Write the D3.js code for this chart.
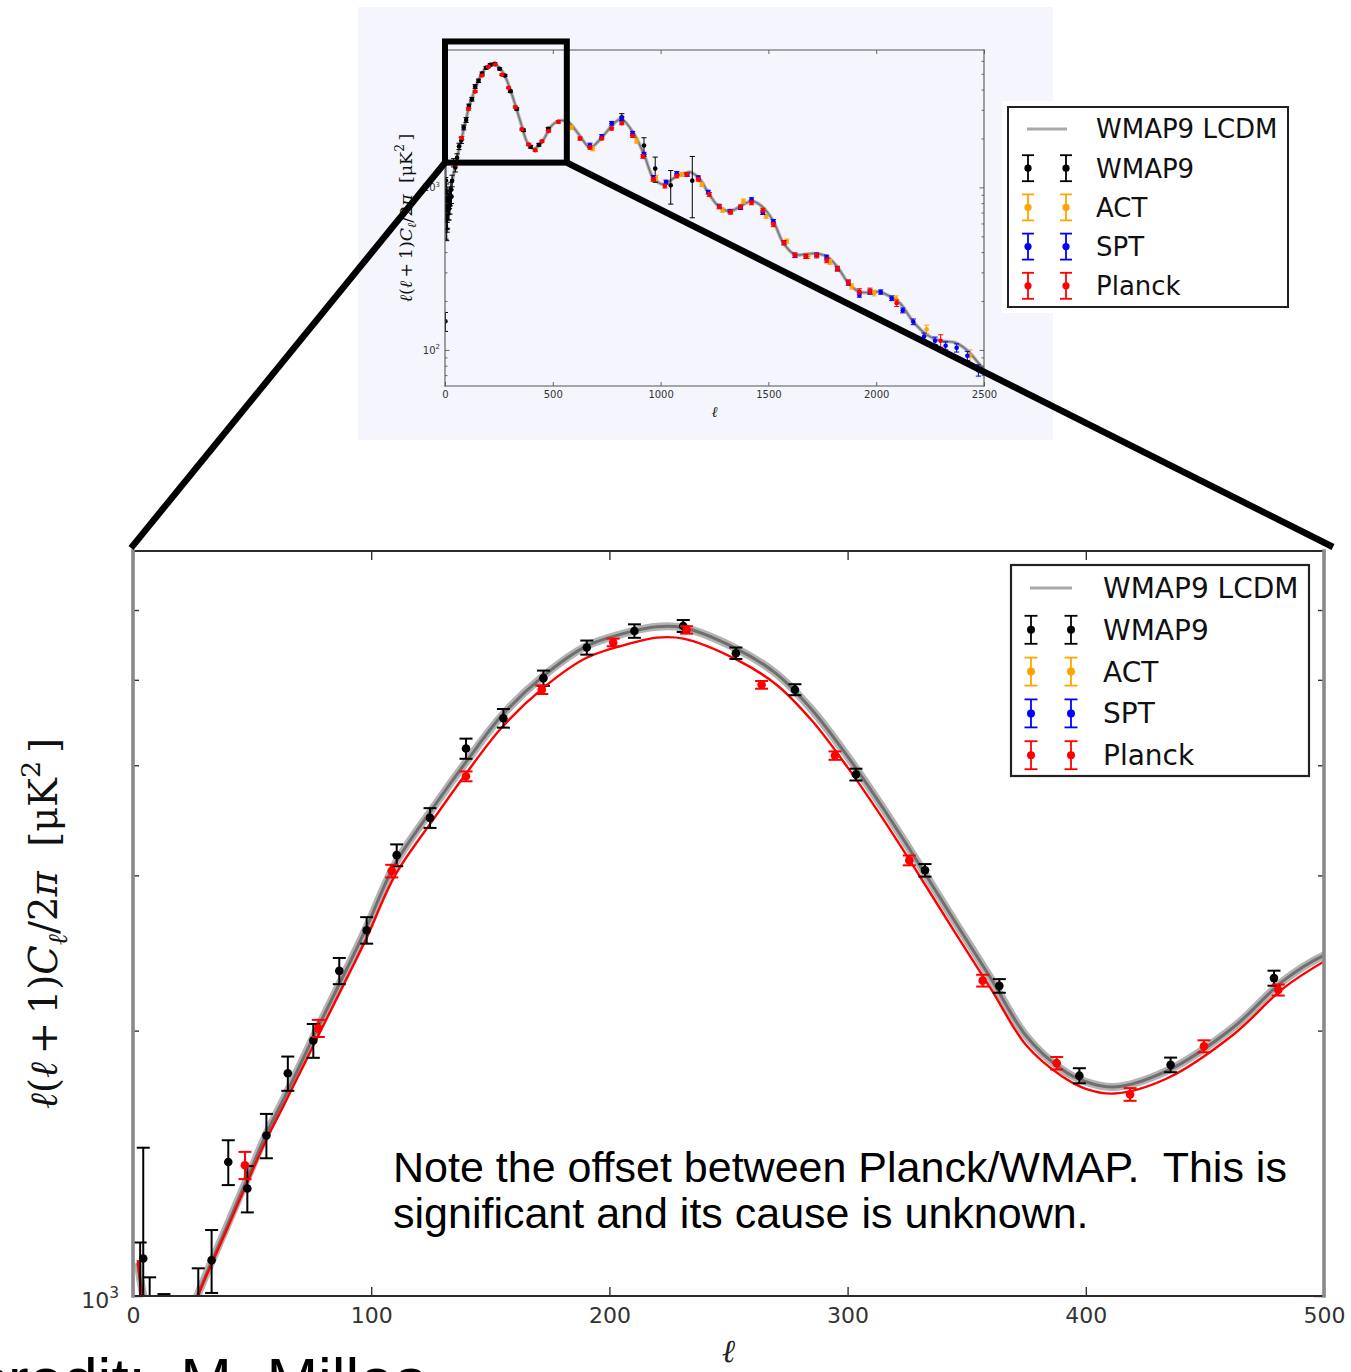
<!DOCTYPE html>
<html>
<head>
<meta charset="utf-8">
<script src="https://cdn.jsdelivr.net/npm/d3@7"></script>
<style>
  html, body { margin: 0; padding: 0; background: #ffffff; }
  svg { display: block; }
  text { white-space: pre; }
</style>
</head>
<body>
<svg id="fig" width="1351" height="1372"></svg>
<script>
// ---------------- data ----------------
const overviewEllTicks = [0, 500, 1000, 1500, 2000, 2500];
const detailEllTicks = [0, 100, 200, 300, 400, 500];
const majorDlTicks = [100, 1000];
const overviewMinorDlTicks = [70, 80, 90, 200, 300, 400, 500, 600, 700, 800, 900, 2000, 3000, 4000, 5000, 6000];
const detailMinorDlTicks = [2000, 3000, 4000, 5000, 6000];

const legendLabels = ["WMAP9 LCDM", "WMAP9", "ACT", "SPT", "Planck"];
const seriesColors = ["#8c8c8c", "#000000", "#ffa500", "#0000ff", "#ff0000"];

// WMAP9 LCDM best fit, [ell, D_ell in uK^2]
const wmap9Lcdm = [
  [2,1090],[4,1010],[8,900],[14,850],[20,880],[27,1000],[40,1210],[50,1400],[56,1528],[63,1667],
  [70,1825],[77,2000],[90,2358],[98,2618],[110,3090],[126,3580],[140,4040],[155,4560],[172,5043],
  [190,5454],[210,5680],[220,5744],[231,5728],[253,5429],[270,5082],[285,4624],[300,4093],[315,3573],
  [330,3090],[345,2661],[360,2296],[375,1972],[390,1807],[400,1750],[412,1726],[434,1800],[462,2018],
  [483,2279],[500,2435],[526,2566],[548,2580],[572,2530],[626,2073],[672,1758],[727,2027],[773,2390],
  [800,2580],[820,2630],[873,2176],[923,1598],[966,1148],[1012,1043],[1075,1174],[1121,1232],[1136,1243],
  [1183,1120],[1221,927],[1268,767],[1322,714],[1384,785],[1422,823],[1469,767],[1523,619],[1569,456],
  [1623,386],[1708,392],[1770,377],[1824,319],[1871,258],[1925,227],[2018,227],[2064,213],[2110,194],
  [2172,149],[2234,124],[2296,114],[2365,111],[2420,100],[2489,79],[2500,77]
];

// Planck best fit, drawn in the low-ell panel
const planckModel = [
  [2,1098],[4,1000],[10,880],[20,870],[27,995],[40,1200],[50,1385],[56,1505],[63,1640],[70,1790],
  [77,1955],[90,2300],[98,2545],[110,3000],[126,3470],[140,3920],[155,4420],[172,4890],[190,5290],
  [210,5510],[220,5583],[231,5568],[253,5277],[270,4940],[285,4495],[300,3978],[315,3473],[330,3003],
  [345,2587],[360,2235],[375,1925],[390,1775],[400,1718],[412,1697],[434,1765],[462,1980],[483,2235],
  [500,2396]
];

// band powers: [ell, D_ell, sigma]
const wmap9Points = [
  [2,150,20],[3,900,250],[4.3,1103,370],[5,700,220],[6,760,200],[7,800,250],[8,640,170],[9,720,170],
  [10,680,150],[11,760,150],[12,700,140],[13,850,155],[15,760,130],[17,800,120],[19,740,110],
  [21,840,100],[23,780,95],[25,860,90],[27.4,975,100],[30,880,85],[33,1098,90],[40,1419,83],
  [48,1324,80],[56,1521,88],[65,1789,80],[75.7,1949,86],[86.6,2338,80],[98.1,2600,90],[110.7,3163,90],
  [124.7,3486,90],[139.8,4178,110],[155.5,4523,110],[172.3,5022,100],[190.5,5440,100],[210.5,5680,100],
  [231,5755,90],[253.1,5360,80],[277.9,4873,70],[303.5,3904,60],[332.5,3040,50],[363.7,2248,40],
  [397.3,1778,35],[435.6,1829,35],[479,2294,45],[820,2700,140],[923,1810,210],[975,1305,230],
  [1047,1029,240],[1147,1100,450]
];

const actPoints = [
  [587,2335,70],[685,1733,55],[889,1930,60],[979,1148,40],[1098,1203,35],[1191,1043,30],[1288,724,22],
  [1384,823,24],[1489,665,20],[1585,466,15],[1685,377,12],[1786,348,12],[1886,246,9],[1990,224,9],
  [2092,206,9],[2234,134,8],[2435,92,8]
];

const sptPoints = [
  [672,1816,55],[727,2055,55],[773,2480,65],[820,2650,70],[870,2150,60],[923,1598,45],[966,1148,35],
  [1025,1078,30],[1075,1220,32],[1124,1200,30],[1175,1148,28],[1221,935,24],[1272,767,20],[1322,714,18],
  [1371,749,18],[1422,843,20],[1474,698,17],[1523,619,15],[1572,459,12],[1623,380,10],[1674,376,10],
  [1724,385,10],[1770,373,10],[1820,316,9],[1871,258,8],[1922,218,7],[1971,227,7],[2021,227,7],
  [2072,208,7],[2123,175,6],[2172,149,6],[2222,121,6],[2273,114,6],[2322,106,6],[2373,103,6],
  [2423,92,6],[2474,75,6]
];

const planckPoints = [
  [47,1407,50],[77.8,2012,45],[108.6,3034,50],[139.8,3886,50],[171.6,4873,55],[201.6,5513,55],
  [232.4,5696,55],[263.9,4935,50],[294.7,4102,45],[325.9,3120,40],[356.7,2279,35],[387.8,1837,30],
  [418.6,1693,28],[449.6,1920,30],[480.8,2224,32],[526,2530,50],[626,1998,45],[672,1758,40],
  [727,2000,40],[773,2300,45],[820,2480,50],[870,2073,45],[918,1550,40],[966,1120,30],[1020,1019,28],
  [1075,1174,30],[1121,1203,30],[1175,1120,28],[1226,905,25],[1272,760,22],[1325,704,20],[1371,760,20],
  [1422,804,22],[1474,724,20],[1523,591,18],[1572,456,14],[1623,384,12],[1674,377,12],[1724,380,12],
  [1770,356,12],[1820,316,11],[1871,260,10],[1922,229,9],[1971,231,9],[2095,194,9],[2299,114,10]
];

// region of the full spectrum that the lower panel enlarges
const zoomEll = [0, 565];
const zoomDl = [1420, 7900];

const noteLines = ["Note the offset between Planck/WMAP.  This is", "significant and its cause is unknown."];
const creditText = "credit:  M. Millea";

// ---------------- drawing ----------------
const svg = d3.select("#fig");
const defs = svg.append("defs");
const pointSets = [wmap9Points, actPoints, sptPoints, planckPoints];

function logLabel(g, xRight, yBase, value, size) {
  const t = g.append("text").attr("x", xRight).attr("y", yBase).attr("text-anchor", "end")
    .attr("font-family", "DejaVu Sans").attr("font-size", size).attr("fill", "#333");
  t.append("tspan").text("10");
  t.append("tspan").attr("font-size", size * 0.7).attr("dy", -size * 0.45).text(String(Math.round(Math.log10(value))));
}

function yTitle(g, cx, cy, size) {
  const t = g.append("text").attr("transform", `translate(${cx},${cy}) rotate(-90)`)
    .attr("text-anchor", "middle").attr("font-family", "DejaVu Serif").attr("font-size", size).attr("fill", "#111");
  const parts = [
    {s: "\u2113", it: 1}, {s: "("}, {s: "\u2113", it: 1}, {s: "\u2009+\u20091)"}, {s: "C", it: 1},
    {s: "\u2113", it: 1, shift: 0.25}, {s: "/2"}, {s: "\u03c0", it: 1}, {s: "\u00a0\u00a0[\u03bcK"},
    {s: "2", shift: -0.45}, {s: "\u2009]"}
  ];
  let cur = 0;
  parts.forEach(p => {
    const target = p.shift || 0;
    const ts = t.append("tspan").text(p.s).attr("dy", (target - cur) * size);
    cur = target;
    if (p.it) ts.attr("font-style", "italic");
    if (p.shift) ts.attr("font-size", size * 0.7);
  });
}

function drawPanel(p) {
  const x = d3.scaleLinear().domain(p.ellDomain).range([p.left, p.right]);
  const y = d3.scaleLog().domain(p.dlDomain).range([p.bottom, p.top]);
  const g = svg.append("g");

  defs.append("clipPath").attr("id", p.id + "-clip").append("rect")
    .attr("x", p.left).attr("y", p.top).attr("width", p.right - p.left).attr("height", p.bottom - p.top);
  const inner = g.append("g").attr("clip-path", `url(#${p.id}-clip)`);

  const line = d3.line().x(d => x(d[0])).y(d => y(d[1])).curve(d3.curveCatmullRom.alpha(0.5));
  inner.append("path").datum(wmap9Lcdm).attr("d", line).attr("fill", "none")
    .attr("stroke", p.haloColor).attr("stroke-width", p.haloWidth).attr("stroke-linejoin", "round");
  inner.append("path").datum(wmap9Lcdm).attr("d", line).attr("fill", "none")
    .attr("stroke", p.coreColor).attr("stroke-width", p.coreWidth).attr("stroke-linejoin", "round");
  if (p.planckModel) {
    inner.append("path").datum(planckModel).attr("d", line).attr("fill", "none")
      .attr("stroke", "#ff0000").attr("stroke-width", p.redWidth);
  }

  const floor = p.dlDomain[0] * 0.5;
  pointSets.forEach((pts, i) => {
    const col = seriesColors[i + 1];
    const sg = inner.append("g").attr("stroke", col).attr("fill", col);
    const e = sg.selectAll("g").data(pts).join("g");
    const yHi = d => y(d[1] + d[2]);
    const yLo = d => y(Math.max(d[1] - d[2], floor));
    e.append("line").attr("x1", d => x(d[0])).attr("x2", d => x(d[0]))
      .attr("y1", yLo).attr("y2", yHi).attr("stroke-width", p.barWidth);
    [yHi, yLo].forEach(fy => {
      e.append("line").attr("x1", d => x(d[0]) - p.capHalf).attr("x2", d => x(d[0]) + p.capHalf)
        .attr("y1", fy).attr("y2", fy).attr("stroke-width", p.barWidth);
    });
    e.append("circle").attr("cx", d => x(d[0])).attr("cy", d => y(Math.max(d[1], floor)))
      .attr("r", p.r).attr("stroke", "none");
  });

  // ticks
  const axes = g.append("g").attr("color", p.tickColor);
  axes.append("g").attr("transform", `translate(0,${p.bottom})`)
    .call(d3.axisBottom(x).tickValues(p.ellTicks).tickSize(-p.xTick).tickPadding(p.xPad).tickFormat(d3.format("d")))
    .call(a => a.select(".domain").remove())
    .call(a => a.selectAll("text").attr("font-family", "DejaVu Sans").attr("font-size", p.tickFont).attr("fill", "#333"));
  axes.append("g").attr("transform", `translate(0,${p.top})`)
    .call(d3.axisTop(x).tickValues(p.ellTicks).tickSize(-p.xTick).tickFormat(""))
    .call(a => a.select(".domain").remove());
  const majors = majorDlTicks.filter(v => v >= p.dlDomain[0] && v <= p.dlDomain[1]);
  [[d3.axisLeft, p.left], [d3.axisRight, p.right]].forEach(([ax, pos]) => {
    axes.append("g").attr("transform", `translate(${pos},0)`)
      .call(ax(y).tickValues(majors).tickSize(-p.yMajor).tickFormat(""))
      .call(a => a.select(".domain").remove());
    axes.append("g").attr("transform", `translate(${pos},0)`)
      .call(ax(y).tickValues(p.minorTicks).tickSize(-p.yMinor).tickFormat(""))
      .call(a => a.select(".domain").remove());
  });
  axes.selectAll(".tick line").attr("stroke-width", p.tickWidth);

  // frame
  const fr = g.append("g").attr("fill", "none").attr("stroke-linecap", "square");
  fr.append("line").attr("x1", p.left).attr("x2", p.right).attr("y1", p.top).attr("y2", p.top)
    .attr("stroke", p.hSpine).attr("stroke-width", p.hSpineW);
  fr.append("line").attr("x1", p.left).attr("x2", p.right).attr("y1", p.bottom).attr("y2", p.bottom)
    .attr("stroke", p.hSpine).attr("stroke-width", p.hSpineW);
  fr.append("line").attr("x1", p.left).attr("x2", p.left).attr("y1", p.top).attr("y2", p.bottom)
    .attr("stroke", p.vSpine).attr("stroke-width", p.vSpineW);
  fr.append("line").attr("x1", p.right).attr("x2", p.right).attr("y1", p.top).attr("y2", p.bottom)
    .attr("stroke", p.vSpine).attr("stroke-width", p.vSpineW);

  majors.forEach(v => logLabel(g, p.left - p.yLabelGap, y(v) + p.yLabelDy, v, p.tickFont));

  yTitle(g, p.yTitleX, (p.top + p.bottom) / 2, p.titleFont);
  g.append("text").attr("x", (p.left + p.right) / 2).attr("y", p.xTitleY).attr("text-anchor", "middle")
    .attr("font-family", "DejaVu Serif").attr("font-style", "italic").attr("font-size", p.xTitleFont)
    .attr("fill", "#222").text("\u2113");
  return {x, y};
}

function drawLegend(L) {
  const g = svg.append("g");
  if (L.pad) {
    g.append("rect").attr("x", L.x - L.pad).attr("y", L.y - L.pad).attr("width", L.w + 2 * L.pad)
      .attr("height", L.h + 2 * L.pad).attr("fill", "#ffffff");
  }
  g.append("rect").attr("x", L.x).attr("y", L.y).attr("width", L.w).attr("height", L.h)
    .attr("fill", "#ffffff").attr("stroke", "#222").attr("stroke-width", L.border);
  legendLabels.forEach((lab, i) => {
    const ry = L.row0 + i * L.step;
    const col = seriesColors[i];
    if (i === 0) {
      g.append("line").attr("x1", L.g1 - 1).attr("x2", L.g2 + 1).attr("y1", ry).attr("y2", ry)
        .attr("stroke", "#a8a8a8").attr("stroke-width", L.lineW);
    } else {
      [L.g1, L.g2].forEach(gx => {
        const m = g.append("g").attr("stroke", col).attr("fill", col);
        m.append("line").attr("x1", gx).attr("x2", gx).attr("y1", ry - L.bar).attr("y2", ry + L.bar).attr("stroke-width", 1.8);
        m.append("line").attr("x1", gx - L.cap).attr("x2", gx + L.cap).attr("y1", ry - L.bar).attr("y2", ry - L.bar).attr("stroke-width", 1.8);
        m.append("line").attr("x1", gx - L.cap).attr("x2", gx + L.cap).attr("y1", ry + L.bar).attr("y2", ry + L.bar).attr("stroke-width", 1.8);
        m.append("circle").attr("cx", gx).attr("cy", ry).attr("r", L.r).attr("stroke", "none");
      });
    }
    g.append("text").attr("x", L.textX).attr("y", ry).attr("dy", "0.36em")
      .attr("font-family", "DejaVu Sans").attr("font-size", L.font).attr("fill", "#111").text(lab);
  });
}

// ----- upper figure: full spectrum -----
svg.append("rect").attr("x", 358).attr("y", 7).attr("width", 695).attr("height", 433).attr("fill", "#f5f6fd");

const overview = drawPanel({
  id: "overview", left: 445, right: 984, top: 50, bottom: 386,
  ellDomain: [0, 2500], dlDomain: [60, 7000], ellTicks: overviewEllTicks, minorTicks: overviewMinorDlTicks,
  haloColor: "#b5b5b5", haloWidth: 3.6, coreColor: "#777777", coreWidth: 1.5, planckModel: false, redWidth: 1,
  barWidth: 1, capHalf: 2.6, r: 2.3,
  tickColor: "#444", tickWidth: 0.8, xTick: 4, yMajor: 4.5, yMinor: 2.5, xPad: 5, tickFont: 10,
  hSpine: "#555", hSpineW: 1.1, vSpine: "#555", vSpineW: 1.1,
  yLabelGap: 5, yLabelDy: 4, yTitleX: 412, titleFont: 17.5, xTitleY: 417, xTitleFont: 15
});

drawLegend({x: 1008, y: 107, w: 280, h: 200, pad: 6, border: 2, row0: 129, step: 39.2,
  g1: 1028, g2: 1066, textX: 1096, font: 26, bar: 13, cap: 6, r: 3.6, lineW: 3});

// ----- lower figure: low-ell detail -----
const detail = drawPanel({
  id: "detail", left: 133, right: 1324, top: 551, bottom: 1296,
  ellDomain: [0, 500], dlDomain: [1000, 7000], ellTicks: detailEllTicks, minorTicks: detailMinorDlTicks,
  haloColor: "#b3b3b3", haloWidth: 8, coreColor: "#6f6f6f", coreWidth: 3, planckModel: true, redWidth: 2.4,
  barWidth: 2, capHalf: 6.5, r: 4.3,
  tickColor: "#333", tickWidth: 1.4, xTick: 9, yMajor: 10, yMinor: 6, xPad: 11, tickFont: 22,
  hSpine: "#2a2a2a", hSpineW: 2.2, vSpine: "#8a8a8a", vSpineW: 3.6,
  yLabelGap: 14, yLabelDy: 12, yTitleX: 57, titleFont: 38.5, xTitleY: 1362, xTitleFont: 32
});

drawLegend({x: 1011, y: 565, w: 298, h: 211, pad: 0, border: 2.2, row0: 588, step: 41.8,
  g1: 1031, g2: 1071, textX: 1103, font: 28, bar: 14, cap: 6.5, r: 4, lineW: 3});

// ----- zoom indicator -----
const zx0 = overview.x(zoomEll[0]), zx1 = overview.x(zoomEll[1]);
const zy0 = overview.y(zoomDl[1]), zy1 = overview.y(zoomDl[0]);
const ind = svg.append("g").attr("stroke", "#000").attr("fill", "none");
ind.append("rect").attr("x", zx0).attr("y", zy0).attr("width", zx1 - zx0).attr("height", zy1 - zy0)
  .attr("stroke-width", 6);
ind.append("line").attr("x1", zx0).attr("y1", zy1).attr("x2", detail.x(0) - 2).attr("y2", detail.y(7000) - 3)
  .attr("stroke-width", 6.5);
ind.append("line").attr("x1", zx1).attr("y1", zy1).attr("x2", detail.x(500) + 9).attr("y2", detail.y(7000) - 4)
  .attr("stroke-width", 6.5);

// ----- annotation -----
const note = svg.append("text").attr("font-family", "Liberation Sans, Arial, sans-serif").attr("font-size", 43).attr("fill", "#000");
noteLines.forEach((s, i) => note.append("tspan").attr("x", 393).attr("y", 1182 + i * 46).text(s));

svg.append("text").attr("x", -23).attr("y", 1401).attr("font-family", "Liberation Sans, Arial, sans-serif")
  .attr("font-size", 62).attr("fill", "#000").text(creditText);
</script>
</body>
</html>
